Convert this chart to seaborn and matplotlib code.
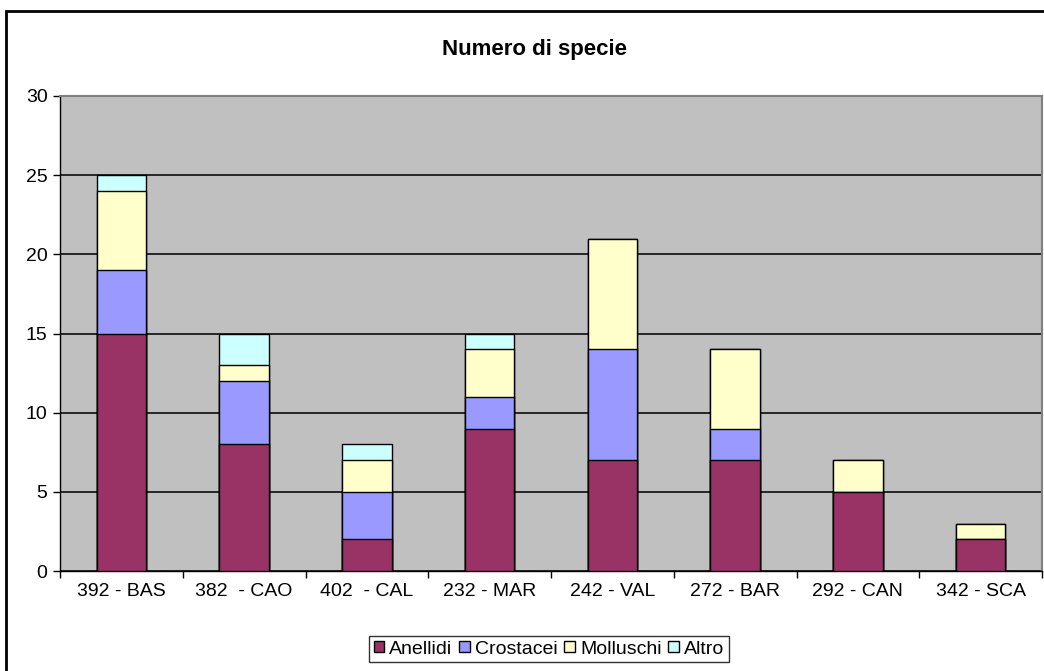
import matplotlib
matplotlib.use("Agg")
import matplotlib.pyplot as plt
import seaborn as sns
import numpy as np
import pandas as pd
from matplotlib.patches import Rectangle, Patch
from matplotlib.ticker import FixedLocator, MultipleLocator

stations = ["392 - BAS", "382  - CAO", "402  - CAL", "232 - MAR",
            "242 - VAL", "272 - BAR", "292 - CAN", "342 - SCA"]
anellidi = [15, 8, 2, 9, 7, 7, 5, 2]
crostacei = [4, 4, 3, 2, 7, 2, 0, 0]
molluschi = [5, 1, 2, 3, 7, 5, 2, 1]
altro = [1, 2, 1, 1, 0, 0, 0, 0]

groups = ["Anellidi", "Crostacei", "Molluschi", "Altro"]
colors = ["#993366", "#9999FF", "#FFFFCC", "#CCFFFF"]

sns.set_theme(style="white")
plt.rcParams["font.family"] = ["Liberation Sans", "DejaVu Sans"]
plt.rcParams["text.color"] = "black"
plt.rcParams["xtick.color"] = "black"
plt.rcParams["ytick.color"] = "black"

df = pd.DataFrame({"stazione": stations, "Anellidi": anellidi,
                   "Crostacei": crostacei, "Molluschi": molluschi, "Altro": altro})
cum = df[groups].cumsum(axis=1).assign(stazione=df["stazione"])

fig = plt.figure(figsize=(10.44, 6.71), dpi=100)
ax = fig.add_axes([60 / 1044, 100 / 671, 982 / 1044, 475 / 671])
ax.set_facecolor("#C0C0C0")

# stacked bars: draw cumulative totals from the top layer down
for g, c in reversed(list(zip(groups, colors))):
    sns.barplot(data=cum, x="stazione", y=g, color=c, saturation=1, width=0.405,
                edgecolor="black", linewidth=1.0, ax=ax, zorder=3, order=stations)

ax.set_ylim(0, 30)
ax.set_xlim(-0.5, len(stations) - 0.5)
ax.yaxis.set_major_locator(MultipleLocator(5))
ax.grid(axis="y", color="#1a1a1a", linewidth=1.3, zorder=1)
ax.set_axisbelow(True)
ax.set_xlabel("")
ax.set_ylabel("")

for s in ["top", "right"]:
    ax.spines[s].set_color("#808080")
    ax.spines[s].set_linewidth(1.5)
ax.spines["left"].set_color("black")
ax.spines["bottom"].set_color("black")
ax.spines["left"].set_linewidth(1.0)
ax.spines["bottom"].set_linewidth(1.0)

ax.tick_params(axis="y", which="major", direction="out", length=5, width=1,
               color="black", labelcolor="black", labelsize=14, pad=4, left=True)
ax.tick_params(axis="x", which="major", length=0, labelsize=14, labelcolor="black", pad=9)
ax.xaxis.set_minor_locator(FixedLocator(np.arange(-0.5, len(stations), 1.0)))
ax.tick_params(axis="x", which="minor", direction="out", length=5, width=1,
               color="black", bottom=True)

fig.text(535 / 1044, 1 - 50 / 671, "Numero di specie", ha="center", va="center",
         fontsize=16, fontweight="bold", color="black")

handles = [Patch(facecolor=c, edgecolor="black", linewidth=1.0, label=g)
           for g, c in zip(groups, colors)]
leg = fig.legend(handles=handles, loc="center", bbox_to_anchor=(549 / 1044, 1 - 649 / 671),
                 ncol=4, frameon=True, fontsize=14, handlelength=0.55, handleheight=0.55,
                 handletextpad=0.25, columnspacing=0.35, borderpad=0.25, fancybox=False,
                 borderaxespad=0, labelcolor="black")
leg.get_frame().set_edgecolor("black")
leg.get_frame().set_linewidth(1.0)

# outer chart border (continues past the right and bottom edges)
fig.patches.append(Rectangle((6 / 1044, -0.05), 1.1, 1 - 11.5 / 671 + 0.05,
                             transform=fig.transFigure, fill=False,
                             edgecolor="black", linewidth=2.0, clip_on=True))

fig.savefig("out.png", dpi=100)
